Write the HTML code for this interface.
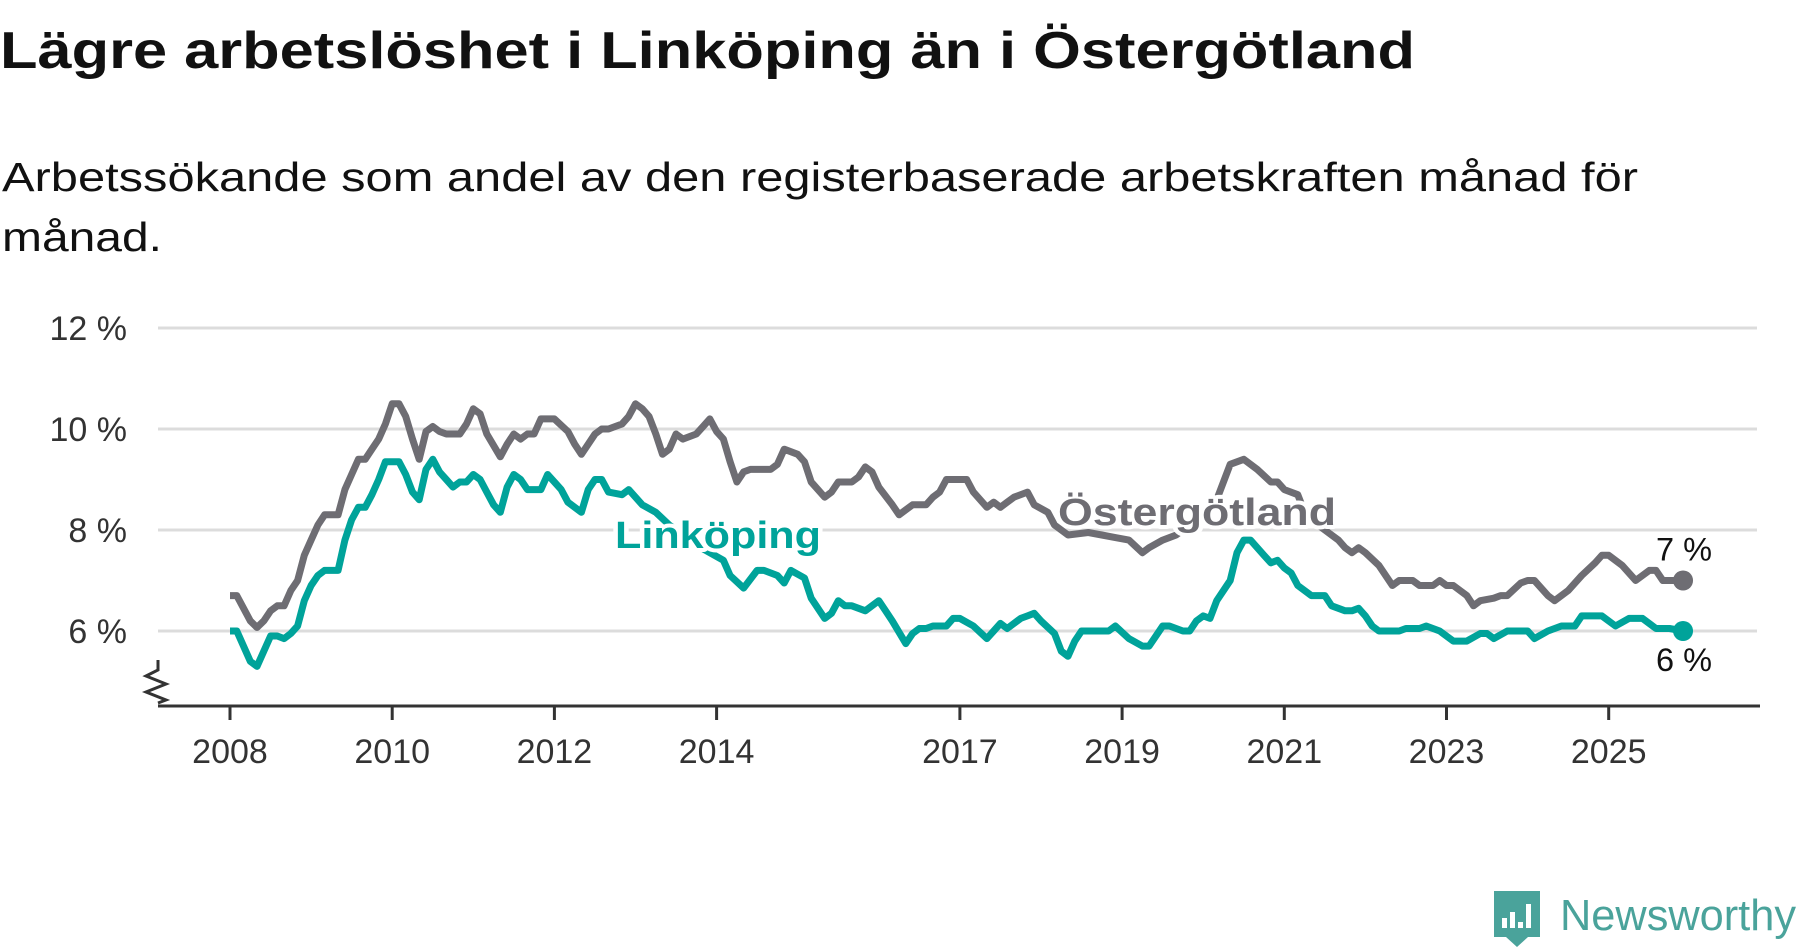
<!DOCTYPE html>
<html><head><meta charset="utf-8"><style>
html,body{margin:0;padding:0;background:#fff;}
svg{display:block;font-family:"Liberation Sans","DejaVu Sans",sans-serif;}
</style></head><body>
<svg id="chart" width="1800" height="948" viewBox="0 0 1800 948" xmlns="http://www.w3.org/2000/svg">
<text x="0" y="68" font-size="52" font-weight="bold" fill="#111" textLength="1415" lengthAdjust="spacingAndGlyphs">Lägre arbetslöshet i Linköping än i Östergötland</text>
<text x="2" y="191" font-size="41" fill="#111" textLength="1636" lengthAdjust="spacingAndGlyphs">Arbetssökande som andel av den registerbaserade arbetskraften månad för</text>
<text x="2" y="251" font-size="41" fill="#111" textLength="160" lengthAdjust="spacingAndGlyphs">månad.</text>
<g id="grid"></g>
<g id="series"></g>
<g id="labels"></g>
<path d="M158,660 L158,670 L146,676 L166,684 L146,692 L166,700 L158,703" fill="none" stroke="#333" stroke-width="3"/>
<g>
<path d="M1494,891 h46 v46 h-12 l-11,10 l-11,-10 h-12 z" fill="#4aa39b"/>
<rect x="1502" y="918" width="5" height="10" fill="#fff"/>
<rect x="1510" y="912" width="5" height="16" fill="#fff"/>
<rect x="1518" y="922" width="5" height="6" fill="#fff"/>
<rect x="1526" y="904" width="5" height="24" fill="#fff"/>
<text x="1560" y="930" font-size="44" fill="#4aa39b" textLength="236" lengthAdjust="spacingAndGlyphs">Newsworthy</text>
</g>
</svg>
<script>
const yTicks = [6, 8, 10, 12];
const yTickLabels = ["6 %", "8 %", "10 %", "12 %"];
const xTickYears = [2008, 2010, 2012, 2014, 2017, 2019, 2021, 2023, 2025];
const ostMonths = [0,1,3,4,5,6,7,8,9,10,11,12,13,14,16,17,18,19,20,21,22,23,24,25,26,27,28,29,30,31,32,34,35,36,37,38,40,41,42,43,44,45,46,48,50,51,52,53,54,55,56,58,59,60,61,62,63,64,65,66,67,69,70,71,72,73,74,75,76,77,80,81,82,84,85,86,88,89,90,92,93,94,95,96,98,99,100,101,103,104,105,106,109,110,112,113,114,115,116,118,119,121,122,124,127,129,131,133,135,136,138,140,142,144,146,148,150,152,154,155,156,158,159,161,162,164,165,166,167,168,170,172,173,175,176,178,179,180,181,183,184,185,187,188,189,191,192,193,195,196,198,200,202,203,204,206,208,210,211,212,215];
const ostValues = [6.7,6.7,6.2,6.07,6.2,6.4,6.5,6.5,6.8,7.0,7.5,7.8,8.1,8.3,8.3,8.8,9.1,9.4,9.4,9.6,9.8,10.1,10.5,10.5,10.25,9.8,9.4,9.95,10.05,9.95,9.9,9.9,10.1,10.4,10.3,9.9,9.45,9.7,9.9,9.8,9.9,9.9,10.2,10.2,9.95,9.7,9.5,9.7,9.9,10.0,10.0,10.1,10.25,10.5,10.4,10.25,9.9,9.5,9.6,9.9,9.8,9.9,10.05,10.2,9.95,9.8,9.35,8.95,9.15,9.2,9.2,9.3,9.6,9.5,9.35,8.95,8.65,8.75,8.95,8.95,9.05,9.25,9.15,8.85,8.5,8.3,8.4,8.5,8.5,8.65,8.75,9.0,9.0,8.75,8.45,8.55,8.45,8.55,8.65,8.75,8.5,8.35,8.1,7.9,7.95,7.9,7.85,7.8,7.55,7.65,7.8,7.9,8.1,8.3,8.6,9.3,9.4,9.2,8.95,8.95,8.8,8.7,8.35,8.1,8.0,7.8,7.65,7.55,7.65,7.55,7.3,6.9,7.0,7.0,6.9,6.9,7.0,6.9,6.9,6.7,6.5,6.6,6.65,6.7,6.7,6.95,7.0,7.0,6.7,6.6,6.8,7.1,7.35,7.5,7.5,7.3,7.0,7.2,7.2,7.0,7.0];
const linMonths = [0,1,3,4,5,6,7,8,9,10,11,12,13,14,16,17,18,19,20,21,22,23,25,26,27,28,29,30,31,32,33,34,35,36,37,38,39,40,41,42,43,44,46,47,48,49,50,52,53,54,55,56,58,59,60,61,63,65,67,69,73,74,76,78,79,81,82,83,85,86,88,89,90,91,92,94,96,97,98,100,101,102,103,104,106,107,108,110,112,113,114,115,117,118,119,120,122,123,124,125,126,130,131,133,135,136,138,139,141,142,143,144,145,146,148,149,150,151,153,154,155,156,157,158,160,162,163,165,166,167,168,169,170,173,174,176,177,179,181,183,185,186,187,189,192,193,195,197,199,200,203,205,207,209,211,213,215];
const linValues = [6.0,6.0,5.4,5.3,5.6,5.9,5.9,5.85,5.95,6.1,6.6,6.9,7.1,7.2,7.2,7.8,8.2,8.45,8.45,8.7,9.0,9.35,9.35,9.1,8.75,8.6,9.2,9.4,9.15,9.0,8.85,8.95,8.95,9.1,9.0,8.75,8.5,8.35,8.85,9.1,9.0,8.8,8.8,9.1,8.95,8.8,8.55,8.35,8.8,9.0,9.0,8.75,8.7,8.8,8.65,8.5,8.35,8.1,7.9,7.7,7.4,7.1,6.85,7.2,7.2,7.1,6.95,7.2,7.05,6.65,6.25,6.35,6.6,6.5,6.5,6.4,6.6,6.4,6.2,5.75,5.95,6.05,6.05,6.1,6.1,6.25,6.25,6.1,5.85,6.0,6.15,6.05,6.25,6.3,6.35,6.2,5.95,5.6,5.5,5.8,6.0,6.0,6.1,5.85,5.7,5.7,6.1,6.1,6.0,6.0,6.2,6.3,6.25,6.6,7.0,7.55,7.8,7.8,7.5,7.35,7.4,7.25,7.15,6.9,6.7,6.7,6.5,6.4,6.4,6.45,6.3,6.1,6.0,6.0,6.05,6.05,6.1,6.0,5.8,5.8,5.95,5.95,5.85,6.0,6.0,5.85,6.0,6.1,6.1,6.3,6.3,6.1,6.25,6.25,6.05,6.05,6.0];

const NS = "http://www.w3.org/2000/svg";
const x = m => 230 + m * (81.1 / 12);
const xYear = yr => x((yr - 2008) * 12);
const y = v => 631 - (v - 6) * 50.5;
function mk(tag, attrs, parent, text) {
  const e = document.createElementNS(NS, tag);
  for (const k in attrs) e.setAttribute(k, attrs[k]);
  if (text !== undefined) e.textContent = text;
  parent.appendChild(e);
  return e;
}
const grid = document.getElementById('grid');
yTicks.forEach((t, i) => {
  const l = mk('line', {x1: 158, x2: 1757, y1: y(t), y2: y(t), stroke: '#dcdcdc', 'stroke-width': 3}, grid);
  
  
  const tx = mk('text', {x: 127, y: y(t) + 12, 'text-anchor': 'end', 'font-size': 34, fill: '#333'}, grid, yTickLabels[i]);
  
  
});
const ax = mk('line', {x1: 158, x2: 1760, y1: 706, y2: 706, stroke: '#333', 'stroke-width': 3}, grid);


xTickYears.forEach(yr => {
  const tk = mk('line', {x1: xYear(yr), x2: xYear(yr), y1: 706, y2: 720, stroke: '#333', 'stroke-width': 3}, grid);
  
  
  const tl = mk('text', {x: xYear(yr), y: 763, 'text-anchor': 'middle', 'font-size': 34, fill: '#333'}, grid, String(yr));
  
  
});
const series = document.getElementById('series');
function line(ms, vs, color, name) {
  const d = ms.map((m, i) => (i ? 'L' : 'M') + x(m).toFixed(1) + ',' + y(vs[i]).toFixed(1)).join(' ');
  const p = mk('path', {d: d, fill: 'none', stroke: color, 'stroke-width': 7, 'stroke-linejoin': 'round'}, series);
  
  
  const n = ms.length - 1;
  const c = mk('circle', {cx: x(ms[n]), cy: y(vs[n]), r: 10, fill: color}, series);
  
  
}
line(ostMonths, ostValues, '#6e6d73', 'ostergotland');
line(linMonths, linValues, '#00a39a', 'linkoping');
const labels = document.getElementById('labels');
function lab(txt, xx, yy, w, color, name, bold, size) {
  const t = mk('text', {x: xx, y: yy, 'font-size': size, 'font-weight': bold ? 'bold' : 'normal', fill: color, stroke: '#fff', 'stroke-width': 8, 'paint-order': 'stroke', 'stroke-linejoin': 'round', textLength: w, lengthAdjust: 'spacingAndGlyphs'}, labels, txt);
  
  
}
lab('Linköping', 615, 548, 206, '#00a39a', 'linkoping-label', true, 38);
lab('Östergötland', 1058, 525, 278, '#6e6d73', 'ostergotland-label', true, 38);
const nO = ostValues.length - 1, nL = linValues.length - 1;
lab(Math.round(ostValues[nO]) + ' %', 1656, y(ostValues[nO]) - 20, 56, '#111', 'ostergotland-end-value', false, 32);
lab(Math.round(linValues[nL]) + ' %', 1656, y(linValues[nL]) + 40, 56, '#111', 'linkoping-end-value', false, 32);
</script>
</body></html>
